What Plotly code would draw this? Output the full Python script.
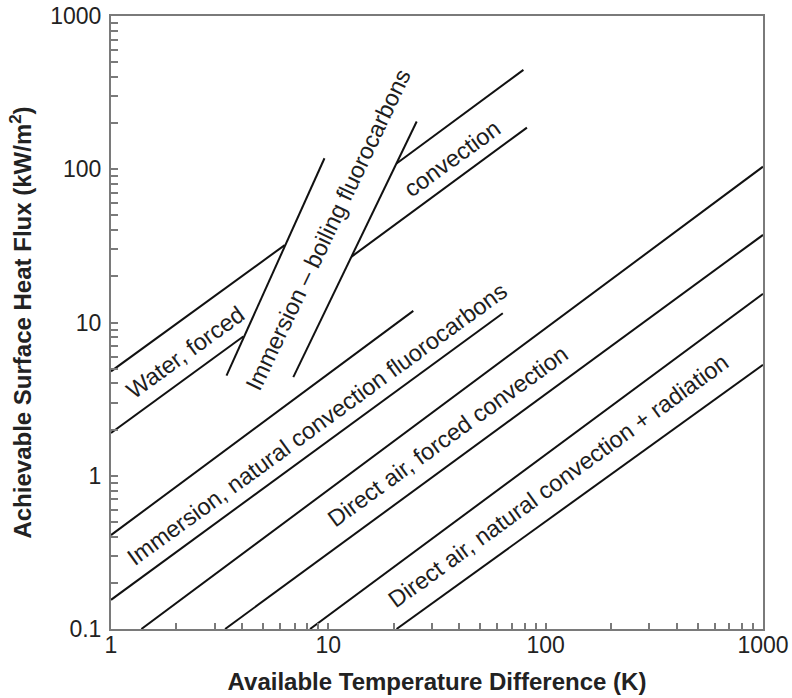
import plotly.graph_objects as go

# Regime boundary lines: (temperature difference K, heat flux kW/m^2)
# None entries break a line where it passes between the boiling lines.
water_upper_dT = [1, 6.3, None, 20.6, 79]
water_upper_q = [4.8, 32, None, 109, 445]
water_lower_dT = [1, 4.06, None, 12.8, 82]
water_lower_q = [1.9, 8.1, None, 26.9, 187]

boiling_left_dT = [3.4, 9.6]
boiling_left_q = [4.5, 118]
boiling_right_dT = [6.9, 25.5]
boiling_right_q = [4.4, 205]

immersion_nat_upper_dT = [1, 24.6]
immersion_nat_upper_q = [0.41, 11.9]
immersion_nat_lower_dT = [1, 63.5]
immersion_nat_lower_q = [0.155, 11.5]

air_forced_upper_dT = [1.38, 1000]
air_forced_upper_q = [0.1, 104]
air_forced_lower_dT = [3.35, 1000]
air_forced_lower_q = [0.1, 37.3]

air_natural_upper_dT = [8.24, 1000]
air_natural_upper_q = [0.1, 15.4]
air_natural_lower_dT = [20.6, 1000]
air_natural_lower_q = [0.1, 5.3]

# Region labels: text, log10(dT), log10(q), angle
region_labels = ["Water, forced",
                 "Immersion \u2013 boiling fluorocarbons",
                 "convection",
                 "Immersion, natural convection fluorocarbons",
                 "Direct air, forced convection",
                 "Direct air, natural convection + radiation"]
label_logx = [0.345, 0.999, 1.567, 0.949, 1.552, 2.058]
label_logy = [0.806, 1.604, 2.068, 0.337, 0.257, -0.037]
label_angle = [-36, -64.5, -36, -36, -36, -36]

# Axis ticks: every 1..9 x 10^n, labelled only at decades
x_tickvals = [m * 10 ** e for e in range(0, 3) for m in range(1, 10)] + [1000]
x_ticktext = [str(v) if v in (1, 10, 100, 1000) else "" for v in x_tickvals]
y_tickvals = [round(m * 10.0 ** e, 6) for e in range(-1, 3) for m in range(1, 10)] + [1000]
y_ticktext = [("0.1" if v == 0.1 else str(int(v))) if v in (0.1, 1, 10, 100, 1000) else ""
              for v in y_tickvals]

FONT = "Liberation Sans, Arial, Helvetica, sans-serif"

fig = go.Figure()
for xs, ys in [
    (water_upper_dT, water_upper_q),
    (water_lower_dT, water_lower_q),
    (boiling_left_dT, boiling_left_q),
    (boiling_right_dT, boiling_right_q),
    (immersion_nat_upper_dT, immersion_nat_upper_q),
    (immersion_nat_lower_dT, immersion_nat_lower_q),
    (air_forced_upper_dT, air_forced_upper_q),
    (air_forced_lower_dT, air_forced_lower_q),
    (air_natural_upper_dT, air_natural_upper_q),
    (air_natural_lower_dT, air_natural_lower_q),
]:
    fig.add_trace(go.Scatter(x=xs, y=ys, mode="lines",
                             line=dict(color="#111111", width=2),
                             connectgaps=False, hoverinfo="skip"))

for txt, lx, ly, ang in zip(region_labels, label_logx, label_logy, label_angle):
    fig.add_annotation(x=lx, y=ly, xref="x", yref="y", text=txt,
                       showarrow=False, textangle=ang,
                       font=dict(family=FONT, size=23.5, color="#1e1e1e"))

axis_common = dict(type="log", showgrid=False, zeroline=False,
                   showline=True, linecolor="#7a7a7a", linewidth=2,
                   mirror=True, ticks="inside", tickcolor="#7a7a7a",
                   tickwidth=1.5, tickmode="array", automargin=False,
                   tickfont=dict(family=FONT, size=23, color="#222222"))

fig.update_xaxes(range=[0, 3], tickvals=x_tickvals, ticktext=x_ticktext,
                 ticklen=6, ticklabelstandoff=-6,
                 title=dict(text="<b>Available Temperature Difference (K)</b>",
                            font=dict(family=FONT, size=24, color="#222222"),
                            standoff=17),
                 **axis_common)
fig.update_yaxes(range=[-1, 3], tickvals=y_tickvals, ticktext=y_ticktext,
                 ticklen=7, ticklabelstandoff=3,
                 title=dict(text="<b>Achievable Surface Heat Flux (kW/m<sup>2</sup>)</b>",
                            font=dict(family=FONT, size=24, color="#222222"),
                            standoff=12),
                 **axis_common)

fig.update_layout(width=792, height=698,
                  margin=dict(l=111, r=29, t=16, b=69),
                  plot_bgcolor="white", paper_bgcolor="white",
                  showlegend=False)

fig.write_html("out.html")
